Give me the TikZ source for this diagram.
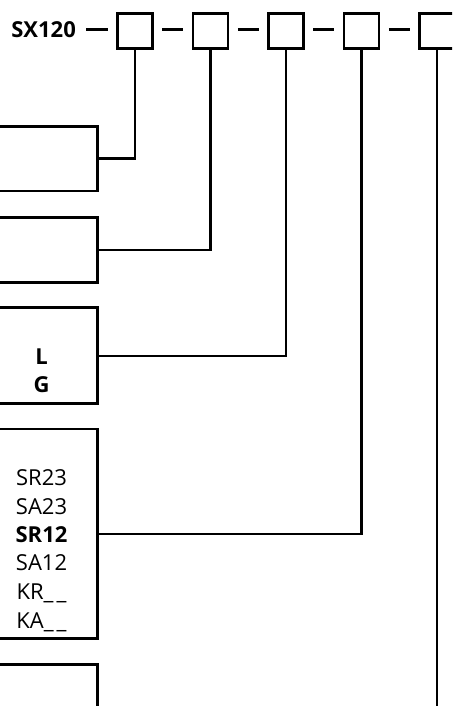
\documentclass[tikz,border=0pt]{standalone}
\usepackage{fontspec}
\setmainfont{Open Sans}
\begin{document}
\begin{tikzpicture}[x=1pt,y=-1pt,
 sq/.style={draw, line width=2.8pt, minimum size=35pt, inner sep=0pt},
 bx/.style={draw, line width=2.8pt, inner sep=0pt, minimum width=112.5pt},
 conn/.style={line width=2.4pt},
 dashline/.style={line width=2.2pt},
 lbl/.style={font=\fontsize{22}{26}\selectfont, inner sep=0pt},
 blbl/.style={font=\fontsize{22}{26}\selectfont\bfseries, inner sep=0pt}
]
\useasboundingbox (0,0) rectangle (452,706);
\clip (0,0) rectangle (452,706);
% header
\node[blbl, anchor=base east] (sx) at (76,37.3) {SX120};
\foreach \i/\x in {1/135,2/210.5,3/286,4/361.5,5/437}
  \node[sq] (s\i) at (\x,30.7) {};
\coordinate (d0) at (86,29.5);
\coordinate (d0e) at (108,29.5);
\draw[dashline] (d0) -- (d0e);
\foreach \a/\b in {1/2,2/3,3/4,4/5}
  \draw[dashline, shorten <=8.5pt, shorten >=8.5pt] ([yshift=1.2pt]s\a.east) -- ([yshift=1.2pt]s\b.west);
% boxes
\node[bx, minimum height=64.8pt] (b1) at (41.25,158.6) {};
\node[bx, minimum height=65.5pt] (b2) at (41.25,250) {};
\node[bx, minimum height=95.9pt] (b3) at (41.25,355.7) {};
\node[bx, minimum height=209.3pt] (b4) at (41.25,533.7) {};
\node[bx, minimum height=100pt, anchor=north] (b5) at (41.25,663.3) {};
% texts
\node[blbl, anchor=base] (tL) at (41.5,364) {L};
\node[blbl, anchor=base] (tG) at (41.5,392.7) {G};
\node[lbl, anchor=base] (t1) at (41.5,485.7) {SR23};
\node[lbl, anchor=base] (t2) at (41.5,514.4) {SA23};
\node[blbl, anchor=base] (t3) at (41.5,542.1) {SR12};
\node[lbl, anchor=base] (t4) at (41.5,570.8) {SA12};
\node[lbl, anchor=base] (t5) at (41.5,599.5) {KR\_\kern3pt\_};
\node[lbl, anchor=base] (t6) at (41.5,628.2) {KA\_\kern3pt\_};
% connectors
\draw[conn] (b1.east) -| (s1.south);
\draw[conn] (b2.east) -| (s2.south);
\draw[conn] (b3.east) -| (s3.south);
\draw[conn] (b4.east) -| (s4.south);
\coordinate (e5) at (437,720);
\draw[conn] (s5.south) -- (e5);
\end{tikzpicture}
\end{document}
